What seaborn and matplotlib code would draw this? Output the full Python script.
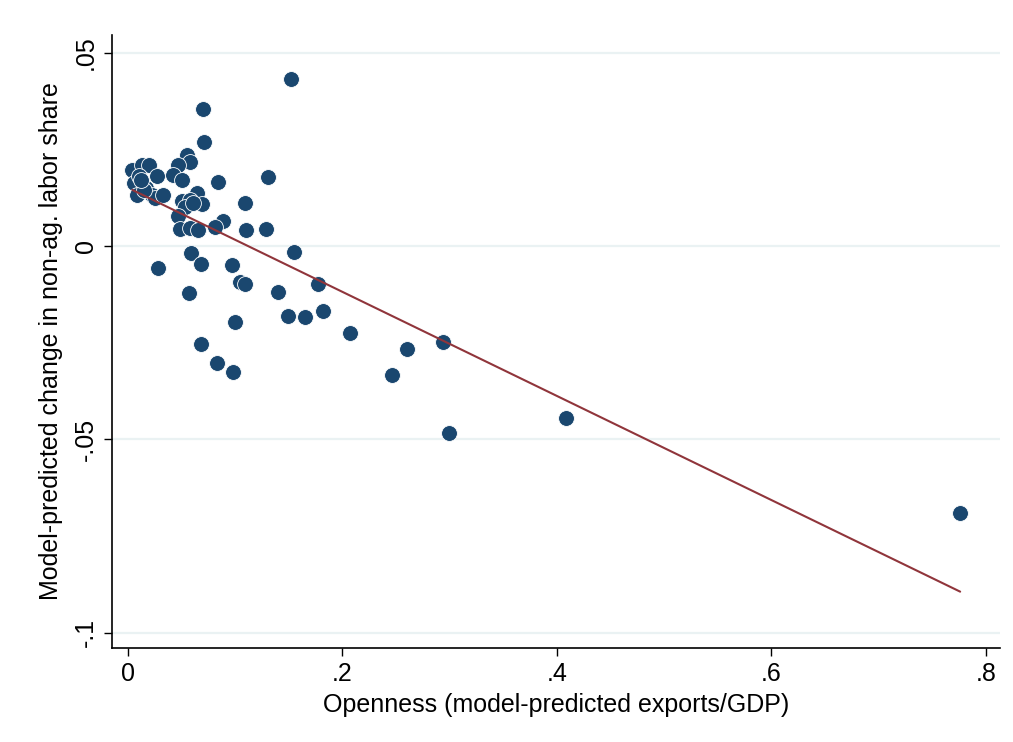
import matplotlib
matplotlib.use("Agg")
import matplotlib.pyplot as plt
import seaborn as sns
import numpy as np
import pandas as pd

openness = [0.152, 0.070, 0.0706, 0.0547, 0.0578, 0.047, 0.004, 0.0128, 0.020, 0.027,
            0.042, 0.050, 0.131, 0.084, 0.006, 0.010, 0.008, 0.017, 0.022, 0.025,
            0.033, 0.064, 0.050, 0.058, 0.0687, 0.053, 0.061, 0.109, 0.047, 0.089,
            0.081, 0.0485, 0.058, 0.0656, 0.110, 0.129, 0.155, 0.0587, 0.028, 0.068,
            0.0967, 0.104, 0.109, 0.140, 0.177, 0.0566, 0.0998, 0.149, 0.165, 0.182,
            0.0678, 0.207, 0.0827, 0.0976, 0.246, 0.260, 0.294, 0.299, 0.408, 0.776,
            0.015, 0.0125]
labor_change = [0.0432, 0.0354, 0.0268, 0.0235, 0.0218, 0.0210, 0.0197, 0.0210, 0.0210, 0.0180,
                0.0184, 0.0170, 0.0178, 0.0165, 0.0163, 0.0180, 0.0132, 0.0150, 0.0132, 0.0123,
                0.0132, 0.0136, 0.0115, 0.0119, 0.0108, 0.0102, 0.0110, 0.0112, 0.0077, 0.0065,
                0.0048, 0.0045, 0.0046, 0.0041, 0.0040, 0.0043, -0.0016, -0.0019, -0.0058, -0.0047,
                -0.0049, -0.0092, -0.0098, -0.0118, -0.0098, -0.0122, -0.0198, -0.0181, -0.0184, -0.0167,
                -0.0254, -0.0226, -0.0302, -0.0327, -0.0334, -0.0266, -0.0248, -0.0484, -0.0445, -0.0690,
                0.0145, 0.0170]

x_ticks = [0, 0.2, 0.4, 0.6, 0.8]
x_tick_labels = ["0", ".2", ".4", ".6", ".8"]
y_ticks = [0.05, 0, -0.05, -0.1]
y_tick_labels = [".05", "0", "-.05", "-.1"]

df = pd.DataFrame({"openness": openness, "change": labor_change})

sns.set_style("white")
plt.rcParams['font.family'] = ['Liberation Sans', 'DejaVu Sans']
plt.rcParams['text.color'] = 'black'
plt.rcParams['axes.labelcolor'] = 'black'
plt.rcParams['xtick.color'] = 'black'
plt.rcParams['ytick.color'] = 'black'

fig = plt.figure(figsize=(10.13, 7.42), dpi=100)
ax = fig.add_axes([0.1106, 0.1267, 0.8764, 0.8263])

for yt in y_ticks:
    ax.axhline(yt, color="#EAF2F3", lw=1.6, zorder=0)

sns.regplot(data=df, x="openness", y="change", ax=ax, ci=None,
            scatter_kws=dict(s=130, color="#1A476F", edgecolors="white", linewidths=0.6, alpha=1, zorder=2),
            line_kws=dict(color="#90353B", lw=1.5, zorder=3))

ax.set_xlim(-0.0149, 0.813)
ax.set_ylim(-0.104, 0.0546)
ax.set_xticks(x_ticks)
ax.set_xticklabels(x_tick_labels, fontsize=18, color="black")
ax.set_yticks(y_ticks)
ax.set_yticklabels(y_tick_labels, fontsize=18, rotation=90, va="center", color="black")
ax.tick_params(axis="both", direction="out", length=6, width=1, color="black", pad=4, left=True, bottom=True)
for s in ["top", "right"]:
    ax.spines[s].set_visible(False)
for s in ["left", "bottom"]:
    ax.spines[s].set_color("black")
    ax.spines[s].set_linewidth(1.2)

ax.set_xlabel("Openness (model-predicted exports/GDP)", fontsize=18, labelpad=5, color="black")
ax.set_ylabel("Model-predicted change in non-ag. labor share", fontsize=18, labelpad=8, color="black")

fig.savefig("out.png", dpi=100)
